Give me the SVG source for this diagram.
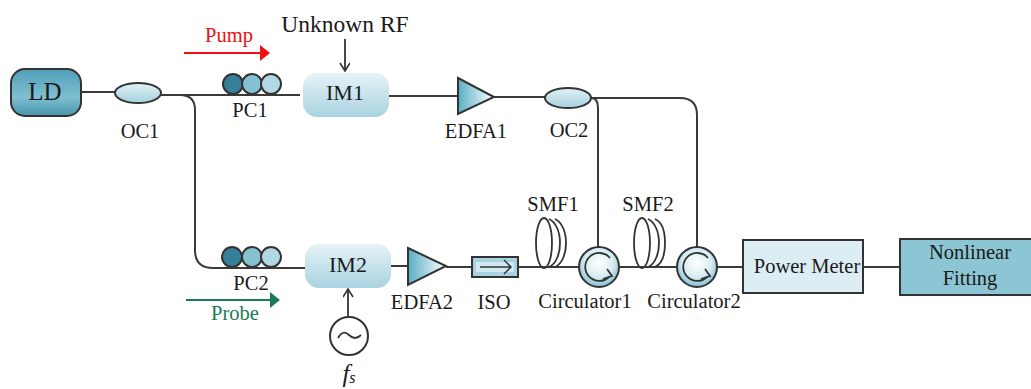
<svg xmlns="http://www.w3.org/2000/svg" width="1031" height="389" viewBox="0 0 1031 389">
<style>
text{font-family:"Liberation Serif","Times New Roman",serif;font-size:20.5px;fill:#1a1a1a;text-anchor:middle}
.c{fill:none;stroke:#3a3a3a;stroke-width:2}
.k{fill:none;stroke:#333;stroke-width:1.8}
.o{stroke:#333;stroke-width:2}
.p1{fill:#357f98;stroke:#333;stroke-width:2}
.p2{fill:#86c1d3;stroke:#333;stroke-width:2}
.p3{fill:#b2d8e4;stroke:#333;stroke-width:2}
.im{fill:url(#gi)}
.cir{fill:url(#gc);stroke:#333;stroke-width:2}
.coil{fill:none;stroke:#333;stroke-width:1.8}
</style>
<defs>
<linearGradient id="gl" x1="0" y1="0" x2="0" y2="1"><stop offset="0" stop-color="#4f9fb8"/><stop offset=".6" stop-color="#7fbfd1"/><stop offset="1" stop-color="#4795ad"/></linearGradient>
<linearGradient id="gi" x1="0" y1="0" x2="0" y2="1"><stop offset="0" stop-color="#e6f3f7"/><stop offset="1" stop-color="#a9d3e0"/></linearGradient>
<linearGradient id="go" x1="0" y1="0" x2="0" y2="1"><stop offset="0" stop-color="#e2f1f5"/><stop offset="1" stop-color="#a5d1de"/></linearGradient>
<linearGradient id="gt" x1="0" y1="0" x2="1" y2="0"><stop offset="0" stop-color="#5aaec6"/><stop offset="1" stop-color="#ffffff"/></linearGradient>
<radialGradient id="gc" cx=".5" cy=".4" r=".6"><stop offset="0" stop-color="#ffffff"/><stop offset=".6" stop-color="#d8ecf2"/><stop offset="1" stop-color="#7fbdd0"/></radialGradient>
<marker id="ak" markerWidth="12" markerHeight="12" refX="9" refY="5" orient="auto" markerUnits="userSpaceOnUse"><path d="M1 0L9 5L1 10" fill="none" stroke="#333" stroke-width="1.6"/></marker>
</defs>
<g id="connectors">
<path class="c" d="M81 92H115"/>
<path class="c" d="M161 95H300"/>
<path class="c" d="M161 95H180Q195 95 195 110V250Q195 268 213 268H305"/>
<path class="c" d="M389 96H458"/>
<path class="c" d="M494 97H546"/>
<path class="c" d="M591 98H680Q697 98 697 115V248"/>
<path class="c" d="M591 98Q598 98 598 108V247"/>
<path class="c" d="M391 266H408"/>
<path class="c" d="M446 267H472"/>
<path class="c" d="M518 267H579"/>
<path class="c" d="M619 267H677"/>
<path class="c" d="M717 267H743"/>
<path class="c" d="M863 267H900"/>
<path class="k" d="M345 39V71" marker-end="url(#ak)"/>
<path class="k" d="M348 316V289" marker-end="url(#ak)"/>
<path d="M184 53H262" stroke="#f01010" stroke-width="2" fill="none"/>
<path d="M260 45L270 53L260 61Z" fill="#f01010"/>
<path d="M186 300H271" stroke="#1a7a55" stroke-width="2" fill="none"/>
<path d="M270 292L280 300L270 308Z" fill="#1a7a55"/>
</g>
<g id="LD"><rect x="11" y="69" width="70" height="47" rx="14" fill="url(#gl)" stroke="#333" stroke-width="2"/><text x="45" y="100" style="font-size:25px">LD</text></g>
<g id="OC1"><ellipse cx="138" cy="93" rx="23" ry="10" fill="url(#go)" class="o"/><text x="140" y="138">OC1</text></g>
<g id="PC1"><circle cx="233" cy="84" r="10" class="p1"/><circle cx="252" cy="84" r="10" class="p2"/><circle cx="271" cy="84" r="10" class="p3"/><text x="250" y="117">PC1</text></g>
<g id="IM1"><rect x="303" y="73" width="86" height="44" rx="14" class="im"/><text x="345" y="100" style="font-size:22px">IM1</text></g>
<g id="UnknownRF"><text x="345" y="32" style="font-size:23.5px">Unknown RF</text></g>
<g id="Pump"><text x="229" y="42" style="fill:#f01010">Pump</text></g>
<g id="EDFA1"><path d="M458 78L494 97L458 114Z" fill="url(#gt)" class="o"/><text x="476" y="138">EDFA1</text></g>
<g id="OC2"><ellipse cx="568" cy="98" rx="23" ry="10" fill="url(#go)" class="o"/><text x="569" y="137">OC2</text></g>
<g id="PC2"><circle cx="232" cy="257" r="10" class="p1"/><circle cx="252" cy="257" r="10" class="p2"/><circle cx="271" cy="257" r="10" class="p3"/><text x="251" y="290">PC2</text></g>
<g id="Probe"><text x="235" y="320" style="fill:#1a7a55">Probe</text></g>
<g id="IM2"><rect x="305" y="244" width="86" height="44" rx="14" class="im"/><text x="348" y="272" style="font-size:22px">IM2</text></g>
<g id="Source"><circle cx="349" cy="336" r="19" fill="#fff" stroke="#333" stroke-width="2"/><path d="M338 338Q343 329 349 335T361 335" class="k"/><text x="349" y="382" style="font-size:25px;font-style:italic">f<tspan dy="1" style="font-size:16px">s</tspan></text></g>
<g id="EDFA2"><path d="M408 248L446 266L408 285Z" fill="url(#gt)" class="o"/><text x="422" y="309">EDFA2</text></g>
<g id="ISO"><rect x="472" y="257" width="46" height="20" fill="#a9d3e0" stroke="#333" stroke-width="2"/><rect x="476" y="262" width="38" height="10" fill="#d3e9f0"/><path d="M480 267H510M504 260L511 267L504 274" fill="none" stroke="#333" stroke-width="1.5"/><text x="494" y="309">ISO</text></g>
<g id="SMF1"><ellipse cx="544" cy="243" rx="8" ry="25" class="coil"/><path class="coil" d="M549 219C556 222 560 232 560 243S556 264 549 267M555 219C562 222 566 232 566 243S562 264 555 267"/><text x="553" y="211">SMF1</text></g>
<g id="SMF2"><ellipse cx="642" cy="243" rx="8" ry="25" class="coil"/><path class="coil" d="M648 219C655 222 659 232 659 243S655 264 648 267M655 219C662 222 665 232 665 243S662 264 655 267"/><text x="648" y="211">SMF2</text></g>
<g id="Circulator1"><circle cx="599" cy="267" r="20" class="cir"/><path d="M610 258A14 14 0 1 0 609 277" class="k"/><path d="M603 279L612 276L607 269" class="k"/><text x="585" y="308">Circulator1</text></g>
<g id="Circulator2"><circle cx="697" cy="267" r="20" class="cir"/><path d="M708 258A14 14 0 1 0 707 277" class="k"/><path d="M701 279L710 276L705 269" class="k"/><text x="694" y="308">Circulator2</text></g>
<g id="PowerMeter"><rect x="743" y="240" width="120" height="53" fill="#dcedf3" stroke="#333" stroke-width="2"/><text x="807" y="273">Power Meter</text></g>
<g id="NonlinearFitting"><rect x="900" y="239" width="135" height="56" fill="#8cc5d3" stroke="#333" stroke-width="2"/><text x="970" y="259">Nonlinear</text><text x="970" y="285">Fitting</text></g>
</svg>
